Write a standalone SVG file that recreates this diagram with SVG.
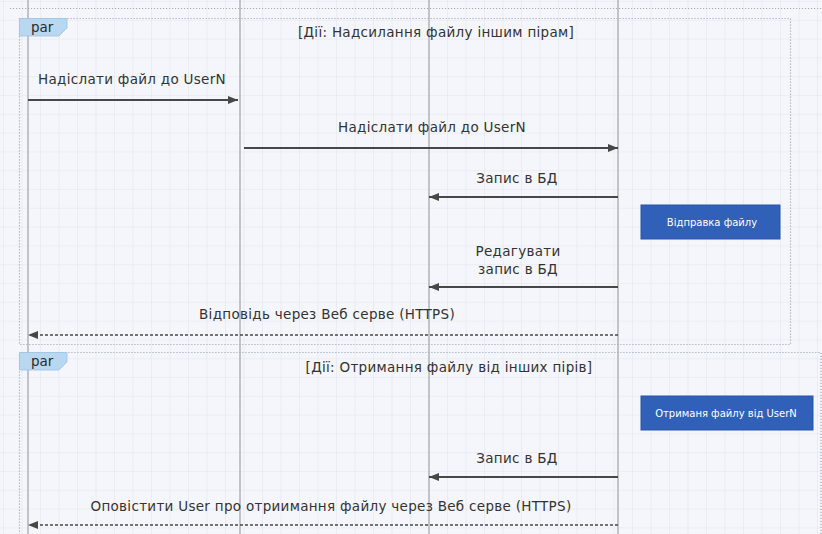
<svg xmlns="http://www.w3.org/2000/svg" width="822" height="534" viewBox="0 0 822 534">
<style>
.t{font-family:"DejaVu Sans","Liberation Sans",sans-serif;font-size:13.5px;letter-spacing:0.3px;fill:#333}
.lbl{font-family:"DejaVu Sans","Liberation Sans",sans-serif;font-size:13.5px;letter-spacing:0.3px;fill:#333}
.tab{fill:#b8d8f2;stroke:#9cc2e4;stroke-width:0.8}
.tabt{font-family:"DejaVu Sans","Liberation Sans",sans-serif;font-size:13.5px;fill:#2a2a2a}
.frame{fill:none;stroke:#a4adbb;stroke-width:1.2;stroke-dasharray:1.2 1.8}
.life{stroke:#c2c3c8;stroke-width:2}
.msg{stroke:#474747;stroke-width:2;fill:none}
.ret{stroke:#474747;stroke-width:1.6;stroke-dasharray:3 2;fill:none}
.box{fill:#3060b8;stroke:#2a55a8;stroke-width:1}
.boxt{font-family:"DejaVu Sans","Liberation Sans",sans-serif;font-size:10px;fill:#ffffff}
</style>
<defs>
<pattern id="grid" width="18.5" height="18.8" patternUnits="userSpaceOnUse" x="4" y="2">
<path d="M18.5 0V18.8M0 18.8H18.5" fill="none" stroke="#e3e5ed" stroke-width="1.2"/>
</pattern>
<marker id="ah" markerWidth="10" markerHeight="8" refX="10" refY="4" orient="auto" markerUnits="userSpaceOnUse">
<path d="M0 0L10 4L0 8Z" fill="#474747"/>
</marker>
</defs>
<rect width="822" height="534" fill="#f5f6fb"/>
<rect width="822" height="534" fill="url(#grid)"/>

<g id="lifelines">
<line class="life" x1="28" y1="0" x2="28" y2="534"/>
<line class="life" x1="240" y1="0" x2="240" y2="534"/>
<line class="life" x1="429" y1="0" x2="429" y2="534"/>
<line class="life" x1="618" y1="0" x2="618" y2="534"/>
</g>

<g id="outer-line">
<path class="frame" d="M10 8.5H822"/>
</g>

<g id="frame1">
<rect class="frame" x="19.5" y="18.5" width="771" height="326"/>
<path class="tab" d="M19.5 18.5H67V28L59 36H19.5Z"/>
<text class="tabt" x="31" y="31.5">par</text>
<text class="lbl" x="436" y="37" text-anchor="middle">[Дії: Надсилання файлу іншим пірам]</text>
</g>

<g id="frame2">
<path class="frame" d="M821 540V352.5H19.5V540"/>
<path class="tab" d="M19.5 352.5H67V362L59 370H19.5Z"/>
<text class="tabt" x="31" y="365.5">par</text>
<text class="lbl" x="449" y="372" text-anchor="middle">[Дії: Отримання файлу від інших пірів]</text>
</g>

<g id="box1">
<rect class="box" x="641" y="205" width="139" height="34"/>
<text class="boxt" x="712" y="226" text-anchor="middle">Відправка файлу</text>
</g>

<g id="box2">
<rect class="box" x="641" y="396" width="172" height="34"/>
<text class="boxt" x="726" y="417" text-anchor="middle">Отриманя файлу від UserN</text>
</g>

<g id="connectors">
<line class="msg" x1="28" y1="100" x2="238" y2="100" marker-end="url(#ah)"/>
<line class="msg" x1="244" y1="148" x2="618" y2="148" marker-end="url(#ah)"/>
<line class="msg" x1="618" y1="197" x2="429" y2="197" marker-end="url(#ah)"/>
<line class="msg" x1="618" y1="287" x2="429" y2="287" marker-end="url(#ah)"/>
<line class="ret" x1="618" y1="335" x2="28" y2="335" marker-end="url(#ah)"/>
<line class="msg" x1="618" y1="477" x2="429" y2="477" marker-end="url(#ah)"/>
<line class="ret" x1="618" y1="525" x2="28" y2="525" marker-end="url(#ah)"/>
</g>

<g id="labels">
<text class="t" x="132" y="84" text-anchor="middle">Надіслати файл до UserN</text>
<text class="t" x="432" y="132" text-anchor="middle">Надіслати файл до UserN</text>
<text class="t" x="517" y="183" text-anchor="middle">Запис в БД</text>
<text class="t" x="518" y="256" text-anchor="middle">Редагувати</text>
<text class="t" x="518" y="274" text-anchor="middle">запис в БД</text>
<text class="t" x="327" y="319" text-anchor="middle">Відповідь через Веб серве (HTTPS)</text>
<text class="t" x="517" y="463" text-anchor="middle">Запис в БД</text>
<text class="t" x="331" y="511" text-anchor="middle">Оповістити User про отриимання файлу через Веб серве (HTTPS)</text>
</g>
</svg>
